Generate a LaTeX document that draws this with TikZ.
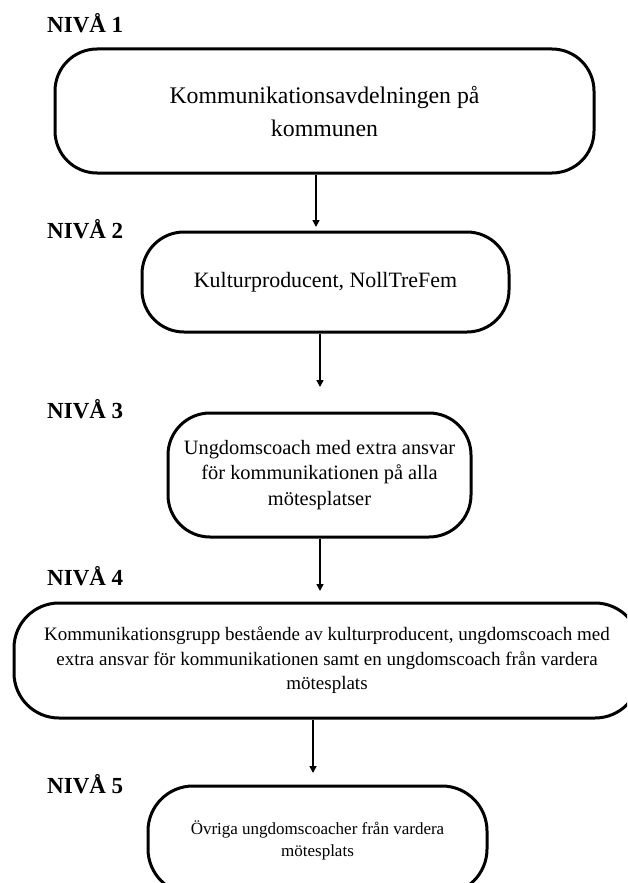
\documentclass[tikz,border=0pt]{standalone}
\usepackage{fontspec}
\setmainfont{Liberation Serif}
\usetikzlibrary{arrows.meta}
\tikzset{
  lvl/.style={anchor=base west, inner sep=0pt, font=\fontsize{23}{26}\selectfont\bfseries},
  pill/.style={draw, line width=3pt, rectangle, rounded corners=#1, inner sep=0pt, align=center},
  pill/.default=40pt,
  arr/.style={line width=1.6pt, -{Triangle[length=7pt,width=7pt]}}
}
\begin{document}
\begin{tikzpicture}[x=1pt,y=-1pt]
\useasboundingbox (0,0) rectangle (627,883);
\clip (0,0) rectangle (627,883);
\fill[white] (0,0) rectangle (627,883);

% level labels
\node[lvl] (l1) at (47,33) {NIVÅ 1};
\node[lvl] (l2) at (47,238) {NIVÅ 2};
\node[lvl] (l3) at (47,418) {NIVÅ 3};
\node[lvl] (l4) at (47,585) {NIVÅ 4};
\node[lvl] (l5) at (47,793) {NIVÅ 5};

% boxes
\node[pill=42pt, minimum width=539pt, minimum height=124pt,
      font=\fontsize{23.8}{33}\selectfont] (b1) at (324.5,111)
  {Kommunikationsavdelningen på\\kommunen};
\node[pill=42pt, minimum width=367pt, minimum height=100pt,
      font=\fontsize{21.9}{26}\selectfont] (b2) at (325.5,282)
  {Kulturproducent, NollTreFem};
\node[pill=42pt, minimum width=303pt, minimum height=124pt,
      font=\fontsize{20.4}{25.5}\selectfont] (b3) at (319.5,475)
  {Ungdomscoach med extra ansvar\\för kommunikationen på alla\\mötesplatser};
\node[pill=45pt, minimum width=626pt, minimum height=115pt,
      font=\fontsize{19}{24.5}\selectfont] (b4) at (327,660.5)
  {Kommunikationsgrupp bestående av kulturproducent, ungdomscoach med\\extra ansvar för kommunikationen samt en ungdomscoach från vardera\\mötesplats};
\node[pill=45pt, minimum width=339pt, minimum height=108pt,
      font=\fontsize{17}{22}\selectfont] (b5) at (317.5,840)
  {Övriga ungdomscoacher från vardera\\mötesplats};

% arrow ends
\coordinate (t1) at (316,227);
\coordinate (t2) at (320,387);
\coordinate (t3) at (320,591);
\coordinate (t4) at (313,773);

\draw[arr] (b1.south -| t1) -- (t1);
\draw[arr] (b2.south -| t2) -- (t2);
\draw[arr] (b3.south -| t3) -- (t3);
\draw[arr] (b4.south -| t4) -- (t4);
\end{tikzpicture}
\end{document}
